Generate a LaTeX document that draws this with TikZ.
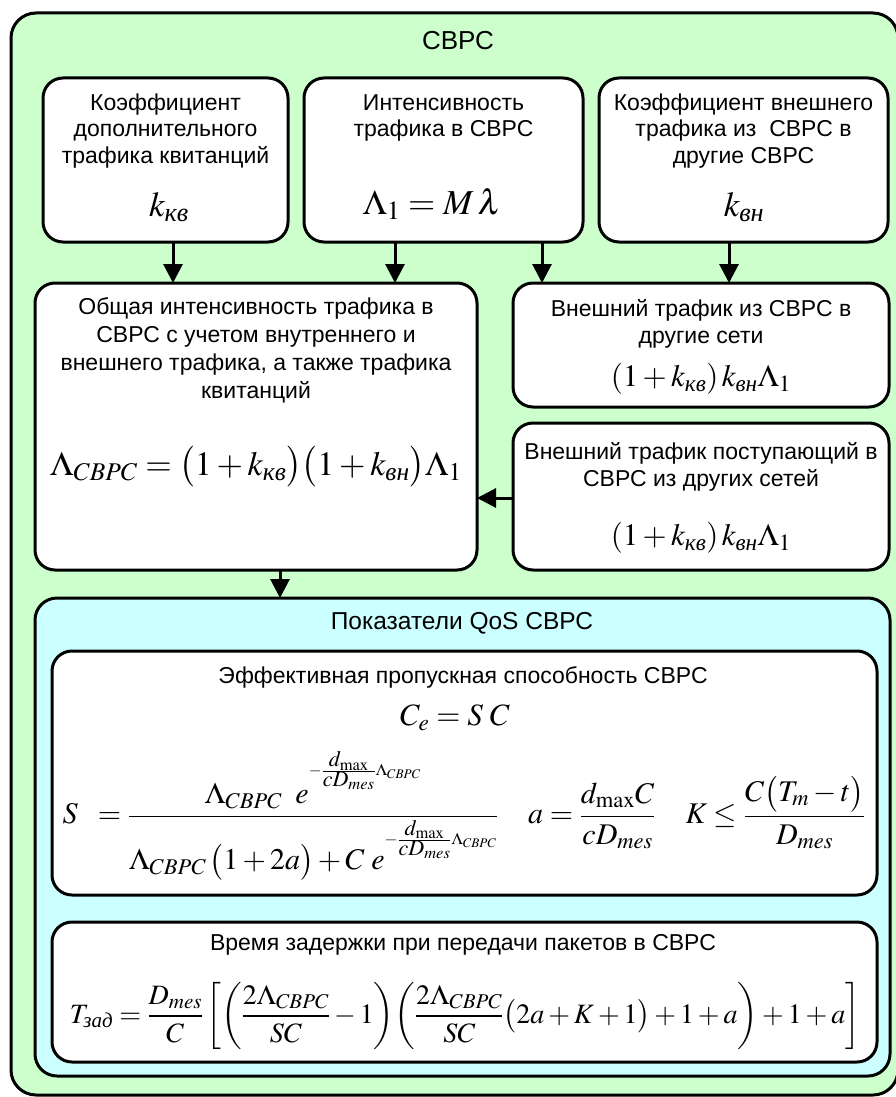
\documentclass[tikz,border=0pt]{standalone}
\usepackage{amsmath}
\usepackage{mathptmx}
\usepackage[no-math]{fontspec}
\setmainfont{Liberation Sans}
\newfontfamily\tmsfont{Liberation Serif}
\usetikzlibrary{arrows.meta}
\definecolor{bggreen}{HTML}{CCFFCC}
\definecolor{bgcyan}{HTML}{CCFFFF}
\renewcommand{\defaultscriptratio}{.75}
\newcommand{\cyi}[1]{\text{\tmsfont\itshape #1}}
\newcommand{\mfs}[1]{\fontsize{#1}{#1}\selectfont}
\newcommand{\expo}{e^{\raisebox{17pt}{\fontsize{22}{22}\selectfont$\scriptstyle-\frac{\textstyle d_{\max}}{\textstyle cD_{mes}}\Lambda_{CBPC}$}}}
\begin{document}
\begin{tikzpicture}[x=1pt,y=-1pt,
  box/.style={draw=black, line width=3pt, fill=white, rounded corners=20pt,
    inner sep=0pt, outer sep=0pt, anchor=north west},
  lbl/.style={font=\fontsize{23}{26.5}\selectfont, align=center, inner sep=0pt},
  arr/.style={line width=3pt, -{Triangle[width=19pt,length=19pt]}}
]
\useasboundingbox (0,0) rectangle (896,1097);
% outer frame
\node[box, fill=bggreen, rounded corners=25pt, minimum width=887pt, minimum height=1082pt] (outer) at (11,13) {};
\node[lbl, font=\fontsize{26}{30}\selectfont] (title) at (458,41) {СВРС};
% top boxes
\node[box, minimum width=245pt, minimum height=164pt] (A) at (43,78) {};
\node[box, minimum width=279pt, minimum height=164pt] (B) at (304,78) {};
\node[box, minimum width=289pt, minimum height=164pt] (C) at (599,78) {};
% middle boxes
\node[box, minimum width=442pt, minimum height=287pt] (D) at (35,283) {};
\node[box, minimum width=376pt, minimum height=124pt] (E) at (513,283) {};
\node[box, minimum width=376pt, minimum height=147pt] (F) at (513,423) {};
% QoS
\node[box, fill=bgcyan, rounded corners=22pt, minimum width=855pt, minimum height=478pt] (Q) at (35,598) {};
\node[box, minimum width=825pt, minimum height=244pt] (G) at (52,651) {};
\node[box, minimum width=825pt, minimum height=140pt] (H) at (52,922) {};

% texts
\node[lbl] (tA) at (165.5,131) {Коэффициент\\дополнительного\\трафика квитанций};
\node[lbl] (fA) at (169,207) {\mfs{35}$k_{\cyi{кв}}$};
\node[lbl] (tB) at (443.5,118) {Интенсивность\\трафика в СВРС};
\node[lbl] (fB) at (432,204) {\mfs{35}$\Lambda_1 = M\,\lambda$};
\node[lbl] (tC) at (743.5,131) {Коэффициент внешнего\\трафика из\ \ СВРС в\\другие СВРС};
\node[lbl] (fC) at (744,207) {\mfs{35}$k_{\cyi{вн}}$};

\node[lbl, font=\fontsize{23}{28}\selectfont] (tD) at (256,350) {Общая интенсивность трафика в\\СВРС с учетом внутреннего и\\внешнего трафика, а также трафика\\квитанций};
\node[lbl] (fD) at (256,467) {\mfs{34}$\Lambda_{CBPC}=\bigl(1+k_{\cyi{кв}}\bigr)\bigl(1+k_{\cyi{вн}}\bigr)\Lambda_1$};

\node[lbl] (tE) at (701,324) {Внешний трафик из СВРС в\\другие сети};
\node[lbl] (fE) at (701,379) {\mfs{31}$(1+k_{\cyi{кв}})\,k_{\cyi{вн}}\Lambda_1$};
\node[lbl] (tF) at (701,467) {Внешний трафик поступающий в\\СВРС из других сетей};
\node[lbl] (fF) at (701,538) {\mfs{31}$(1+k_{\cyi{кв}})\,k_{\cyi{вн}}\Lambda_1$};

\node[lbl, font=\fontsize{24.5}{28}\selectfont] (tQ) at (462,623) {Показатели QoS СВРС};
\node[lbl] (tG) at (463,677) {Эффективная пропускная способность СВРС};
\node[lbl] (fG1) at (455,718) {\mfs{31}$C_e = S\;C$};
\node[lbl] (fG2) at (464,816) {\mfs{30}$\displaystyle S\;\;=\frac{\Lambda_{CBPC}\;\;\expo}{\Lambda_{CBPC}\,\bigl(1+2a\bigr)+C\;\expo}\quad a=\frac{d_{\max}C}{cD_{mes}}\quad K\le\frac{C\bigl(T_m-t\bigr)}{D_{mes}}$};
\node[lbl] (tH) at (463,945) {Время задержки при передачи пакетов в СВРС};
\node[lbl] (fH) at (465,1016) {\mfs{28}$\displaystyle T_{\cyi{зад}}=\frac{D_{mes}}{C}\left[\left(\frac{2\Lambda_{CBPC}}{SC}-1\right)\!\left(\frac{2\Lambda_{CBPC}}{SC}\bigl(2a+K+1\bigr)+1+a\right)+1+a\right]$};

% connectors
\coordinate (x1) at (173,0);
\coordinate (x2) at (395,0);
\coordinate (x3) at (542,0);
\coordinate (x4) at (729,0);
\coordinate (x5) at (280,0);
\coordinate (y1) at (0,498);
\draw[arr] (x1 |- A.south) -- (x1 |- D.north);
\draw[arr] (x2 |- B.south) -- (x2 |- D.north);
\draw[arr] (x3 |- B.south) -- (x3 |- E.north);
\draw[arr] (x4 |- C.south) -- (x4 |- E.north);
\draw[arr] (F.west |- y1) -- (D.east |- y1);
\draw[arr] (x5 |- D.south) -- (x5 |- Q.north);
\end{tikzpicture}
\end{document}
